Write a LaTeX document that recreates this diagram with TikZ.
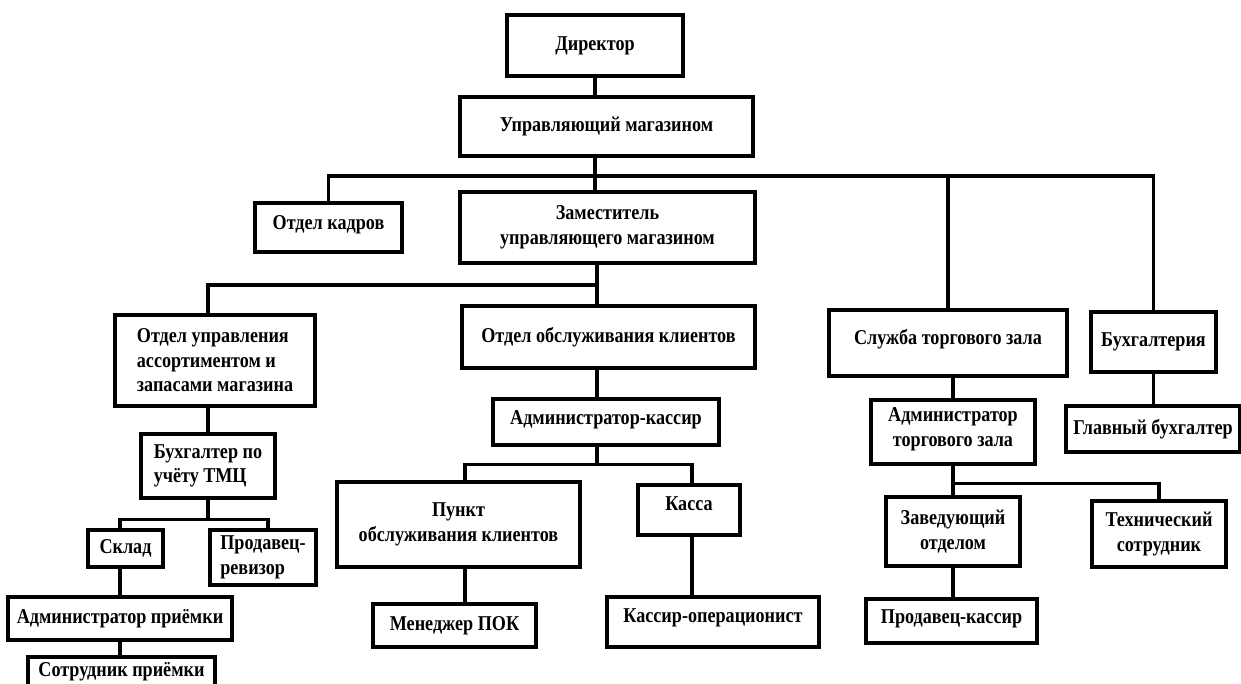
\documentclass[tikz,border=0pt]{standalone}
\usepackage{fontspec}
\setmainfont{Liberation Serif}[FakeStretch=0.86]
\usetikzlibrary{positioning}

\begin{document}
\begin{tikzpicture}[
   unit/.style = {draw=black, line width=1.8pt, inner sep=2pt, align=center,
                  font=\fontsize{12}{14}\selectfont\bfseries},
   link/.style = {draw=black, line width=1.8pt}]
   \useasboundingbox (0,0) rectangle (24.82,-13.68);
   % top of the chart
   \node[unit, minimum width=3.52cm, minimum height=1.22cm] (dir)   at (11.9,-0.91)  {Директор};
   \node[unit, minimum width=5.86cm, minimum height=1.18cm] (upr)   at (12.13,-2.53) {Управляющий магазином};
   \node[unit, minimum width=2.94cm, minimum height=0.98cm, text depth=0.2cm] (kadr) at (6.57,-4.55) {Отдел кадров};
   \node[unit, minimum width=5.9cm,  minimum height=1.42cm] (zam)   at (12.15,-4.55) {Заместитель\\управляющего магазином};
   % departments
   \node[unit, align=left, minimum width=4cm, minimum height=1.82cm] (assort) at (4.3,-7.21)
        {Отдел управления\\ассортиментом и\\запасами магазина};
   \node[unit, minimum width=5.86cm, minimum height=1.24cm] (obsl)  at (12.17,-6.74) {Отдел обслуживания клиентов};
   \node[unit, minimum width=4.76cm, minimum height=1.32cm, text depth=0.26cm] (sluzh) at (18.96,-6.86) {Служба торгового зала};
   \node[unit, minimum width=2.5cm,  minimum height=1.2cm]  (buh)   at (23.07,-6.84) {Бухгалтерия};
   % second level
   \node[unit, align=left, minimum width=2.68cm, minimum height=1.28cm] (tmc) at (4.16,-9.32) {Бухгалтер по\\учёту ТМЦ};
   \node[unit, minimum width=4.52cm, minimum height=0.92cm, text depth=0.18cm] (admkas) at (12.12,-8.44) {Администратор-кассир};
   \node[unit, minimum width=3.28cm, minimum height=1.28cm, text depth=0.2cm] (admzal) at (19.06,-8.64) {Администратор\\торгового зала};
   \node[unit, minimum width=3.48cm, minimum height=0.92cm] (glbuh)  at (23.06,-8.58) {Главный бухгалтер};
   % third level
   \node[unit, minimum width=4.86cm, minimum height=1.7cm]  (punkt)  at (9.17,-10.49) {Пункт\\обслуживания клиентов};
   \node[unit, minimum width=2.04cm, minimum height=1cm, text depth=0.24cm] (kassa) at (13.78,-10.2) {Касса};
   \node[unit, minimum width=1.5cm,  minimum height=0.74cm] (sklad)  at (2.51,-10.97) {Склад};
   \node[unit, align=left, minimum width=2.12cm, minimum height=1.1cm] (reviz) at (5.26,-11.15) {Продавец-\\ревизор};
   \node[unit, minimum width=2.68cm, minimum height=1.38cm] (zav)    at (19.06,-10.63) {Заведующий\\отделом};
   \node[unit, minimum width=2.68cm, minimum height=1.32cm] (tech)   at (23.18,-10.68) {Технический\\сотрудник};
   % bottom
   \node[unit, minimum width=4.48cm, minimum height=0.86cm] (admpr)   at (2.4,-12.37)  {Администратор приёмки};
   \node[unit, minimum width=3.26cm, minimum height=0.86cm] (menedzh) at (9.09,-12.51) {Менеджер ПОК};
   \node[unit, minimum width=4.24cm, minimum height=1cm, text depth=0.26cm] (kasop) at (14.26,-12.44) {Кассир-операционист};
   \node[unit, minimum width=3.42cm, minimum height=0.88cm, text depth=0.18cm] (prodkas) at (19.03,-12.42) {Продавец-кассир};
   \node[unit, minimum width=3.74cm, minimum height=0.6cm]  (sotr)    at (2.43,-13.44) {Сотрудник приёмки};

   \coordinate (bus1) at (11.9,-3.52);
   \coordinate (bus2) at (11.94,-5.7);
   \draw[link] (dir.south) -- (dir.south |- upr.north);
   \draw[link] (upr.south -| bus1) -- (zam.north -| bus1);
   \draw[link] (kadr.north) |- (bus1) -| (buh.north);
   \draw[link] (bus1 -| sluzh.north) -- (sluzh.north);
   \draw[link] (zam.south -| bus2) -- (obsl.north -| bus2);
   \draw[link] (bus2) -| (assort.north -| tmc.north);
   \draw[link] (assort.south -| tmc.north) -- (tmc.north);
   \draw[link] (tmc.south) -- ++(0,-0.4) coordinate (bus3);
   \draw[link] (sklad.north -| admpr.north) |- (bus3) -| ([xshift=1mm]reviz.north);
   \draw[link] (sklad.south -| admpr.north) -- (admpr.north);
   \draw[link] (admpr.south) -- (sotr.north -| admpr.south);
   \draw[link] (obsl.south -| bus2) -- (admkas.north -| bus2);
   \draw[link] (admkas.south -| bus2) -- ++(0,-0.36) coordinate (bus4);
   \draw[link] ([xshift=1.3mm]punkt.north) |- (bus4) -| ([xshift=0.6mm]kassa.north);
   \draw[link] ([xshift=1.3mm]punkt.south) -- ([xshift=1.3mm]punkt.south |- menedzh.north);
   \draw[link] ([xshift=0.6mm]kassa.south) -- ([xshift=0.6mm]kassa.south |- kasop.north);
   \draw[link] (sluzh.south -| admzal) -- (admzal.north);
   \draw[link] (admzal.south) -- (zav.north);
   \draw[link] (admzal.south) ++(0,-0.36) coordinate (bus5) -| (tech.north);
   \draw[link] (zav.south) -- (prodkas.north -| zav.south);
   \draw[link] (buh.south) -- (glbuh.north -| buh.south);
\end{tikzpicture}
\end{document}
